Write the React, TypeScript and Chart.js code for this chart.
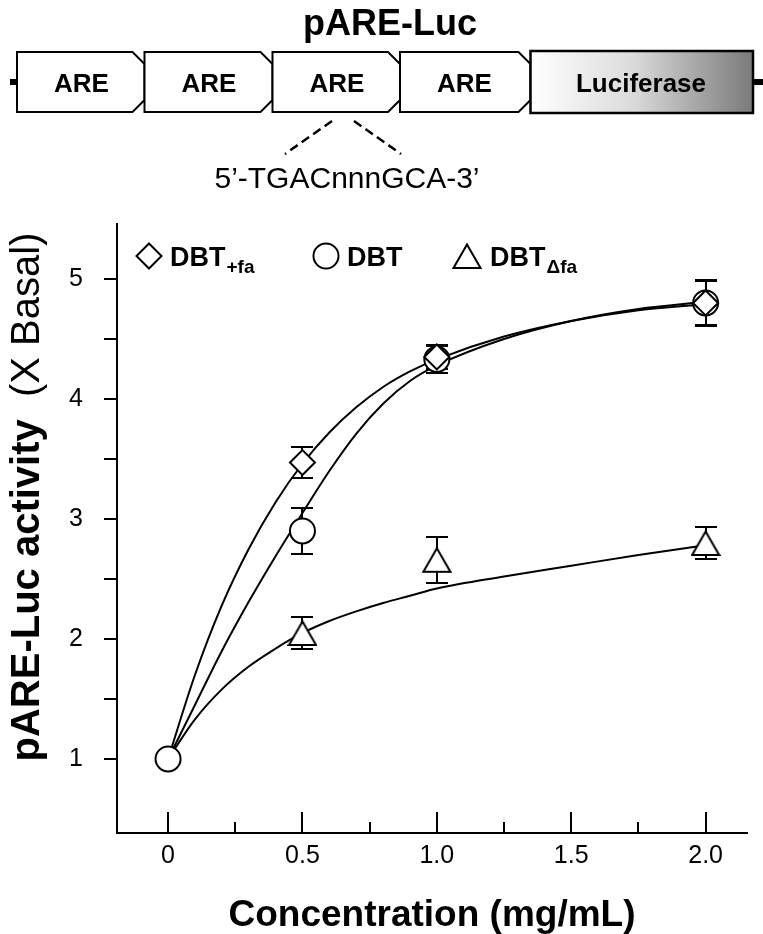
import React, { useEffect, useRef } from 'react';
import { Chart, registerables } from 'chart.js';

Chart.register(...registerables);

const FONT = '"Liberation Sans", Arial, Helvetica, sans-serif';

// ---------- Data ----------
// Measured means (± SE) per series
const dbtFaX = [0.5, 1.0, 2.0];
const dbtFaY = [3.47, 4.35, 4.8];
const dbtFaErr = [0.13, 0.1, 0.18];

const dbtX = [0, 0.5, 1.0, 2.0];
const dbtY = [1.0, 2.9, 4.33, 4.8];
const dbtErr = [0, 0.19, 0.11, 0.19];

const dbtDfaX = [0.5, 1.0, 2.0];
const dbtDfaY = [2.05, 2.66, 2.8];
const dbtDfaErr = [0.13, 0.19, 0.13];

// Fitted curves at these concentrations
const curveX = [0, 0.1, 0.2, 0.3, 0.4, 0.5, 0.6, 0.7, 0.8, 0.9, 1.0, 1.25, 1.5, 1.75, 2.0];
const curveDbtFa = [1.0, 1.7, 2.28, 2.75, 3.14, 3.46, 3.72, 3.93, 4.1, 4.23, 4.33, 4.52, 4.65, 4.74, 4.79];
const curveDbt = [1.0, 1.45, 1.9, 2.31, 2.69, 3.05, 3.4, 3.71, 3.96, 4.15, 4.28, 4.5, 4.65, 4.75, 4.81];
const curveDbtDfa = [1.0, 1.33, 1.58, 1.77, 1.92, 2.05, 2.15, 2.23, 2.3, 2.36, 2.42, 2.52, 2.61, 2.7, 2.78];

// Axes
const xTickValues = [0, 0.25, 0.5, 0.75, 1, 1.25, 1.5, 1.75, 2];
const xTickLabels = ['0', '', '0.5', '', '1.0', '', '1.5', '', '2.0'];
const yTickValues = [1, 1.5, 2, 2.5, 3, 3.5, 4, 4.5, 5];
const yTickLabels = ['1', '', '2', '', '3', '', '4', '', '5'];
const xRange = [-0.19, 2.154];
const yRange = [0.383, 5.458];

// Texts
const xTitle = 'Concentration (mg/mL)';
const yTitleBold = 'pARE-Luc activity';
const yTitleRegular = '(X Basal)';
const legendMain = ['DBT', 'DBT', 'DBT'];
const legendSub = ['+fa', '', '\u0394fa'];
const constructTitle = 'pARE-Luc';
const constructBoxes = ['ARE', 'ARE', 'ARE', 'ARE'];
const reporterLabel = 'Luciferase';
const motifText = '5\u2019-TGACnnnGCA-3\u2019';

// Diagram layout (pixels)
const boxEdges = [17, 144.5, 272.5, 400, 530.5];

function makeTriangle(): HTMLCanvasElement {
  const c = document.createElement('canvas');
  c.width = 30;
  c.height = 28;
  const g = c.getContext('2d')!;
  g.beginPath();
  g.moveTo(15, 2.5);
  g.lineTo(28.5, 26);
  g.lineTo(1.5, 26);
  g.closePath();
  g.fillStyle = '#fff';
  g.fill();
  g.lineWidth = 2;
  g.strokeStyle = '#000';
  g.lineJoin = 'miter';
  g.stroke();
  return c;
}

function pts(xs: number[], ys: number[]) {
  return xs.map((x, i) => ({ x, y: ys[i] }));
}

export default function App() {
  const ref = useRef<HTMLCanvasElement | null>(null);

  useEffect(() => {
    const canvas = ref.current;
    if (!canvas) return;
    const tri = makeTriangle();

    const decor = {
      id: 'decor',
      beforeDatasetsDraw(chart: any) {
        const ctx = chart.ctx;
        const xs = chart.scales.x;
        const ys = chart.scales.y;
        ctx.save();
        ctx.strokeStyle = '#000';
        ctx.lineWidth = 2;
        chart.data.datasets.forEach((ds: any) => {
          if (!ds.errors) return;
          ds.data.forEach((p: any, i: number) => {
            const e = ds.errors[i];
            if (!e) return;
            const px = Math.round(xs.getPixelForValue(p.x));
            const yt = Math.round(ys.getPixelForValue(p.y + e));
            const yb = Math.round(ys.getPixelForValue(p.y - e));
            ctx.beginPath();
            ctx.moveTo(px, yt);
            ctx.lineTo(px, yb);
            ctx.moveTo(px - 11, yt);
            ctx.lineTo(px + 11, yt);
            ctx.moveTo(px - 11, yb);
            ctx.lineTo(px + 11, yb);
            ctx.stroke();
          });
        });
        ctx.restore();
      },
      afterDraw(chart: any) {
        const ctx = chart.ctx;
        const area = chart.chartArea;
        const xs = chart.scales.x;
        const ys = chart.scales.y;
        ctx.save();
        ctx.strokeStyle = '#000';
        ctx.lineWidth = 2;
        // x ticks point inward
        xTickValues.forEach((v, i) => {
          const px = Math.round(xs.getPixelForValue(v));
          const len = xTickLabels[i] ? 21 : 11;
          ctx.beginPath();
          ctx.moveTo(px, area.bottom);
          ctx.lineTo(px, area.bottom - len);
          ctx.stroke();
        });
        // y ticks point outward
        yTickValues.forEach((v) => {
          const py = Math.round(ys.getPixelForValue(v));
          ctx.beginPath();
          ctx.moveTo(area.left, py);
          ctx.lineTo(area.left - 13, py);
          ctx.stroke();
        });

        // y title (bold + regular)
        ctx.fillStyle = '#000';
        const boldFont = `bold 40px ${FONT}`;
        const regFont = `40px ${FONT}`;
        ctx.font = boldFont;
        const wb = ctx.measureText(yTitleBold + '  ').width;
        ctx.font = regFont;
        const wr = ctx.measureText(yTitleRegular).width;
        const total = wb + wr;
        const cy = 497;
        ctx.save();
        ctx.translate(39, cy);
        ctx.rotate(-Math.PI / 2);
        ctx.textBaseline = 'alphabetic';
        ctx.textAlign = 'left';
        ctx.font = boldFont;
        ctx.fillText(yTitleBold, -total / 2, 0);
        ctx.font = regFont;
        ctx.fillText(yTitleRegular, -total / 2 + wb, 0);
        ctx.restore();

        // legend
        const mx = [32, 209, 350];
        const my = area.top + 32;
        const textDx = [21, 21, 23];
        for (let i = 0; i < 3; i++) {
          const cx = area.left + mx[i];
          ctx.lineWidth = 2;
          ctx.strokeStyle = '#000';
          ctx.fillStyle = '#fff';
          if (i === 0) {
            ctx.beginPath();
            ctx.moveTo(cx, my - 12.5);
            ctx.lineTo(cx + 12.5, my);
            ctx.lineTo(cx, my + 12.5);
            ctx.lineTo(cx - 12.5, my);
            ctx.closePath();
            ctx.fill();
            ctx.stroke();
          } else if (i === 1) {
            ctx.beginPath();
            ctx.arc(cx, my, 12.5, 0, Math.PI * 2);
            ctx.fill();
            ctx.stroke();
          } else {
            ctx.drawImage(tri, cx - tri.width / 2, my - tri.height / 2);
          }
          ctx.fillStyle = '#000';
          ctx.textAlign = 'left';
          ctx.textBaseline = 'alphabetic';
          ctx.font = `bold 27px ${FONT}`;
          const tx = cx + textDx[i];
          ctx.fillText(legendMain[i], tx, area.top + 42);
          if (legendSub[i]) {
            const w = ctx.measureText(legendMain[i]).width;
            ctx.font = `bold 19px ${FONT}`;
            ctx.fillText(legendSub[i], tx + w + 1, area.top + 49);
          }
        }
        ctx.restore();
      },
    };

    const markerBase = {
      showLine: false,
      borderColor: '#000',
      backgroundColor: '#fff',
      borderWidth: 2,
      pointBorderWidth: 2,
      pointBackgroundColor: '#fff',
      pointBorderColor: '#000',
    };
    const curveBase = {
      type: 'line',
      showLine: true,
      borderColor: '#000',
      borderWidth: 2,
      pointRadius: 0,
      fill: false,
      cubicInterpolationMode: 'monotone',
      order: 10,
    };

    const chart = new Chart(canvas, {
      type: 'scatter',
      data: {
        datasets: [
          { ...curveBase, label: 'fit DBT+fa', data: pts(curveX, curveDbtFa) },
          { ...curveBase, label: 'fit DBT', data: pts(curveX, curveDbt) },
          { ...curveBase, label: 'fit DBTΔfa', data: pts(curveX, curveDbtDfa) },
          {
            ...markerBase,
            label: 'DBTΔfa',
            data: pts(dbtDfaX, dbtDfaY),
            errors: dbtDfaErr,
            pointStyle: tri,
            pointRadius: 14,
            order: 3,
          },
          {
            ...markerBase,
            label: 'DBT',
            data: pts(dbtX, dbtY),
            errors: dbtErr,
            pointStyle: 'circle',
            pointRadius: 12.5,
            order: 2,
          },
          {
            ...markerBase,
            label: 'DBT+fa',
            data: pts(dbtFaX, dbtFaY),
            errors: dbtFaErr,
            pointStyle: 'rectRot',
            pointRadius: 12.5,
            order: 1,
          },
        ] as any,
      },
      options: {
        animation: false,
        responsive: false,
        maintainAspectRatio: false,
        devicePixelRatio: 1,
        layout: { padding: { top: 224, right: 8, left: 0, bottom: 0 } },
        plugins: {
          legend: { display: false },
          tooltip: { enabled: false },
          title: { display: false },
        },
        scales: {
          x: {
            type: 'linear',
            min: xRange[0],
            max: xRange[1],
            afterBuildTicks: (s: any) => {
              s.ticks = xTickValues.map((v) => ({ value: v }));
            },
            afterFit: (s: any) => {
              s.height = 101;
            },
            ticks: {
              autoSkip: false,
              maxRotation: 0,
              padding: 8,
              color: '#000',
              font: { family: FONT, size: 25 },
              callback: (_v: any, i: number) => xTickLabels[i],
            },
            grid: { display: false, drawTicks: false },
            border: { display: true, color: '#000', width: 2 },
            title: {
              display: true,
              text: xTitle,
              color: '#000',
              font: { family: FONT, size: 37, weight: 'bold' },
              padding: { top: 0, bottom: -4 },
            },
          },
          y: {
            type: 'linear',
            min: yRange[0],
            max: yRange[1],
            afterBuildTicks: (s: any) => {
              s.ticks = yTickValues.map((v) => ({ value: v }));
            },
            afterFit: (s: any) => {
              s.width = 117;
            },
            ticks: {
              autoSkip: false,
              padding: 34,
              color: '#000',
              font: { family: FONT, size: 25 },
              callback: (_v: any, i: number) => yTickLabels[i],
            },
            grid: { display: false, drawTicks: false },
            border: { display: true, color: '#000', width: 2 },
          },
        },
      } as any,
      plugins: [decor],
    });

    return () => chart.destroy();
  }, []);

  return (
    <div style={{ position: 'absolute', left: 0, top: 0, width: 763, height: 934, background: '#fff' }}>
      <canvas
        ref={ref}
        width={763}
        height={934}
        style={{ position: 'absolute', left: 0, top: 0, width: 763, height: 934 }}
      />
      <svg
        width={763}
        height={200}
        style={{ position: 'absolute', left: 0, top: 0, pointerEvents: 'none' }}
      >
        <defs>
          <linearGradient id="lucGrad" x1="0" x2="1" y1="0" y2="0">
            <stop offset="0" stopColor="#ffffff" />
            <stop offset="0.45" stopColor="#dcdcdc" />
            <stop offset="1" stopColor="#7a7a7a" />
          </linearGradient>
        </defs>
        <text x={390} y={35} textAnchor="middle" fontFamily={FONT} fontWeight="bold" fontSize={36} fill="#000">
          {constructTitle}
        </text>
        <rect x={10} y={79} width={8} height={6} fill="#000" />
        <rect x={752} y={79} width={11} height={6} fill="#000" />
        {constructBoxes.map((label, i) => {
          const x0 = boxEdges[i];
          const x1 = boxEdges[i + 1];
          return (
            <g key={i}>
              <path
                d={`M${x0},52 L${x1 - 12},52 L${x1},64 L${x1},100 L${x1 - 12},112 L${x0},112 Z`}
                fill="#fff"
                stroke="#000"
                strokeWidth={2}
              />
              <text x={x0 + 64.5} y={92} textAnchor="middle" fontFamily={FONT} fontWeight="bold" fontSize={26} fill="#000">
                {label}
              </text>
            </g>
          );
        })}
        <rect x={530.5} y={51} width={222.5} height={62} fill="url(#lucGrad)" stroke="#000" strokeWidth={2.5} />
        <text x={641} y={92} textAnchor="middle" fontFamily={FONT} fontWeight="bold" fontSize={26} fill="#000">
          {reporterLabel}
        </text>
        <line x1={332} y1={121} x2={285} y2={154} stroke="#000" strokeWidth={2.5} strokeDasharray="9 5" />
        <line x1={354} y1={121} x2={401} y2={154} stroke="#000" strokeWidth={2.5} strokeDasharray="9 5" />
        <text x={347} y={188} textAnchor="middle" fontFamily={FONT} fontSize={30} fill="#000">
          {motifText}
        </text>
      </svg>
    </div>
  );
}
